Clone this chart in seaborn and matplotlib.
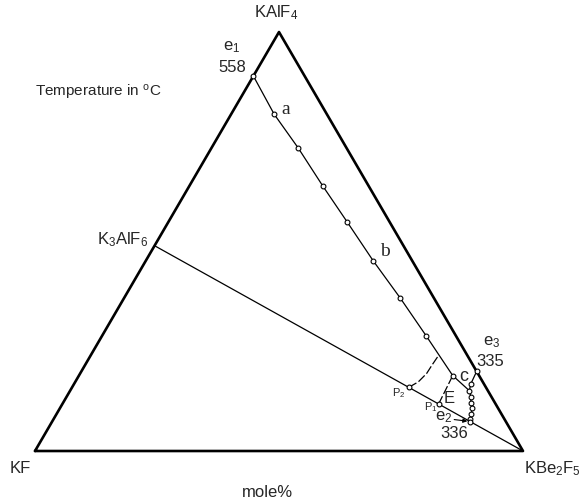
import numpy as np
import pandas as pd
import seaborn as sns
import matplotlib.pyplot as plt

# compositions in mole% : (KBe2F5, KAlF4), KF is the remainder
corner_b = [0, 100, 0, 0]
corner_c = [0, 0, 100, 0]

k3alf6 = (0, 49)

# e1 valley: e1 -> a -> b -> c -> E
e1_b = [0, 8.8, 17.8, 27.4, 36.6, 46.6, 56.6, 66.4, 76.6, 81.8]
e1_c = [89.5, 80.4, 72.3, 63.2, 54.7, 45.4, 36.5, 27.5, 18.0, 14.4]
e1_marks = [True] * 9 + [False]

# e3 -> E -> e2 chain
chain_b = [81.0, 81.3, 81.8, 82.8, 83.6, 84.5, 85.0, 85.4, 85.6]
chain_c = [19.0, 16.0, 14.4, 13.0, 11.5, 10.2, 8.8, 7.6, 7.0]

# dashed boundary from P2 to the e1 valley
p2_b = [69.0, 70.3, 71.0, 71.1, 71.3]
p2_c = [15.2, 16.5, 18.5, 20.5, 22.9]

# dashed boundary from P1 to c
p1_b = [77.1, 76.6]
p1_c = [11.2, 18.0]

e2 = (85.6, 7.0)


def tern(b, c):
    b = np.asarray(b, dtype=float)
    c = np.asarray(c, dtype=float)
    return b + c / 2, c * np.sqrt(3) / 2


sns.set_style("white")
plt.rcParams['font.family'] = ['Liberation Sans', 'DejaVu Sans']
plt.rcParams['mathtext.default'] = 'regular'

fig = plt.figure(figsize=(5.84, 5.03), dpi=100)
ax = fig.add_axes([0, 0, 1, 1])

# triangle
x, y = tern(corner_b, corner_c)
sns.lineplot(x=x, y=y, sort=False, estimator=None, color='black', lw=1.9, ax=ax)

# join K3AlF6 - KBe2F5
x, y = tern([k3alf6[0], 100], [k3alf6[1], 0])
sns.lineplot(x=x, y=y, sort=False, estimator=None, color='black', lw=0.9, ax=ax)

# e1 valley
x, y = tern(e1_b, e1_c)
sns.lineplot(x=x, y=y, sort=False, estimator=None, color='black', lw=0.9, ax=ax)
pts = pd.DataFrame({'x': x, 'y': y, 'm': e1_marks})
pts = pts[pts.m]
sns.scatterplot(data=pts, x='x', y='y', s=12, color='white', edgecolor='black',
                linewidth=0.8, zorder=3, ax=ax)

# e3 - e2 chain
x, y = tern(chain_b, chain_c)
sns.lineplot(x=x, y=y, sort=False, estimator=None, color='black', lw=0.9, ax=ax)
sns.scatterplot(x=x, y=y, s=12, color='white', edgecolor='black',
                linewidth=0.8, zorder=3, ax=ax)

# dashed boundaries
x, y = tern(p2_b, p2_c)
sns.lineplot(x=x, y=y, sort=False, estimator=None, color='black', lw=0.9,
             linestyle=(0, (7, 2)), ax=ax)
sns.scatterplot(x=x[:1], y=y[:1], s=12, color='white', edgecolor='black',
                linewidth=0.8, zorder=3, ax=ax)
x, y = tern(p1_b, p1_c)
sns.lineplot(x=x, y=y, sort=False, estimator=None, color='black', lw=0.9,
             linestyle=(0, (7, 2)), ax=ax)
sns.scatterplot(x=x[:1], y=y[:1], s=12, color='white', edgecolor='black',
                linewidth=0.8, zorder=3, ax=ax)

# labels
fs = 12
ax.text(49.4, 90.6, 'KAlF$_4$', fontsize=fs, ha='center', va='center')
ax.text(-3.0, -3.6, 'KF', fontsize=fs, ha='center', va='center')
ax.text(106.0, -3.6, 'KBe$_2$F$_5$', fontsize=fs, ha='center', va='center')
ax.text(47.7, -8.6, 'mole%', fontsize=fs, ha='center', va='center')
ax.text(23.3, 43.6, 'K$_3$AlF$_6$', fontsize=fs, ha='right', va='center')
ax.text(0, 74.2, 'Temperature in $^{o}$C', fontsize=11, ha='left', va='center')

ax.text(40.2, 83.4, 'e$_1$', fontsize=fs, ha='center', va='center')
ax.text(40.4, 79.2, '558', fontsize=fs, ha='center', va='center')
ax.text(93.5, 22.4, 'e$_3$', fontsize=fs, ha='center', va='center')
ax.text(93.2, 18.4, '335', fontsize=fs, ha='center', va='center')
ax.text(85.9, 3.7, '336', fontsize=fs, ha='center', va='center')
ax.text(83.8, 7.0, 'e$_2$', fontsize=fs, ha='center', va='center')

ax.text(51.3, 70.6, 'a', fontsize=14, family='Liberation Serif', ha='center', va='center')
ax.text(71.8, 41.2, 'b', fontsize=14, family='Liberation Serif', ha='center', va='center')
ax.text(87.8, 15.4, 'c', fontsize=13, ha='center', va='center')
ax.text(84.9, 10.9, 'E', fontsize=12, ha='center', va='center')
ax.text(74.5, 12.0, 'P$_2$', fontsize=8, ha='center', va='center')
ax.text(81.2, 9.0, 'P$_1$', fontsize=8, ha='center', va='center')

ex, ey = tern([e2[0]], [e2[1]])
ax.annotate('', xy=(ex[0] - 0.5, ey[0] + 0.1), xytext=(85.9, 6.5),
            arrowprops=dict(arrowstyle='-|>', color='black', lw=0.8,
                            mutation_scale=6, shrinkA=0, shrinkB=0))

ax.set_xlim(-35 / 4.88, 549 / 4.88)
ax.set_ylim(-52 / 4.838, 451 / 4.838)
ax.set_axis_off()

fig.savefig('out.png', dpi=100)
